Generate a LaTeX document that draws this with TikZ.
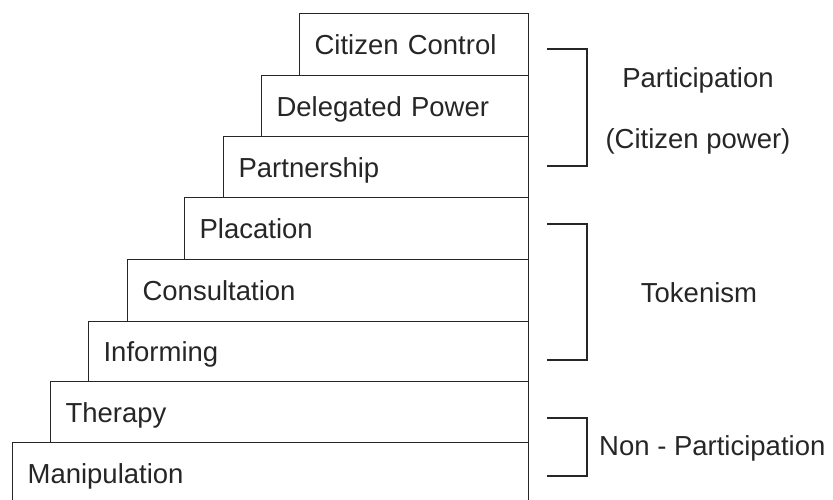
\documentclass[tikz,border=0pt]{standalone}
\usepackage{fontspec}
\setmainfont{Liberation Sans}
\begin{document}
\begin{tikzpicture}[x=1pt,y=-1pt,
  stepbox/.style={draw=black!85, line width=1.2pt, rectangle, anchor=north west,
    inner xsep=15pt, inner ysep=0pt, align=left, text height=20pt, text depth=0pt,
    font=\fontsize{27.5}{33}\selectfont, text=black!85},
  lbl/.style={anchor=base, inner sep=0pt, font=\fontsize{27.5}{33}\selectfont, text=black!85},
  brk/.style={draw=black!85, line width=1.5pt}]
\useasboundingbox (0,0) rectangle (833,499);
\def\R{528}
\foreach \nm/\l/\t/\b/\txt in {
  cc/299/13/75/{Citizen Control},
  dp/261/75/136/{Delegated Power},
  pa/223/136/197/{Partnership},
  pl/184/197/259/{Placation},
  co/127/259/321/{Consultation},
  in/88/321/381/{Informing},
  th/50/381/442/{Therapy},
  ma/12/442/504/{Manipulation}}{
  \pgfmathsetmacro{\w}{\R-\l-30}
  \pgfmathsetmacro{\h}{\b-\t}
  \node[stepbox, text width=\w pt, minimum height=\h pt] (\nm) at (\l,\t) {\txt};
}
% brackets
\coordinate (p1) at (547,49);  \coordinate (p2) at (587,49);
\coordinate (p3) at (587,166); \coordinate (p4) at (547,166);
\draw[brk] (p1) -- (p2) -- (p3) -- (p4);
\coordinate (t1) at (547,224); \coordinate (t2) at (587,224);
\coordinate (t3) at (587,360); \coordinate (t4) at (547,360);
\draw[brk] (t1) -- (t2) -- (t3) -- (t4);
\coordinate (n1) at (547,418); \coordinate (n2) at (587,418);
\coordinate (n3) at (587,476); \coordinate (n4) at (547,476);
\draw[brk] (n1) -- (n2) -- (n3) -- (n4);
% labels
\node[lbl] (lp) at (698,87) {Participation};
\node[lbl] (lc) at (698,148) {(Citizen power)};
\node[lbl] (lt) at (699,302) {Tokenism};
\node[lbl, anchor=base west] (ln) at (599,455) {Non - Participation};
\end{tikzpicture}
\end{document}
